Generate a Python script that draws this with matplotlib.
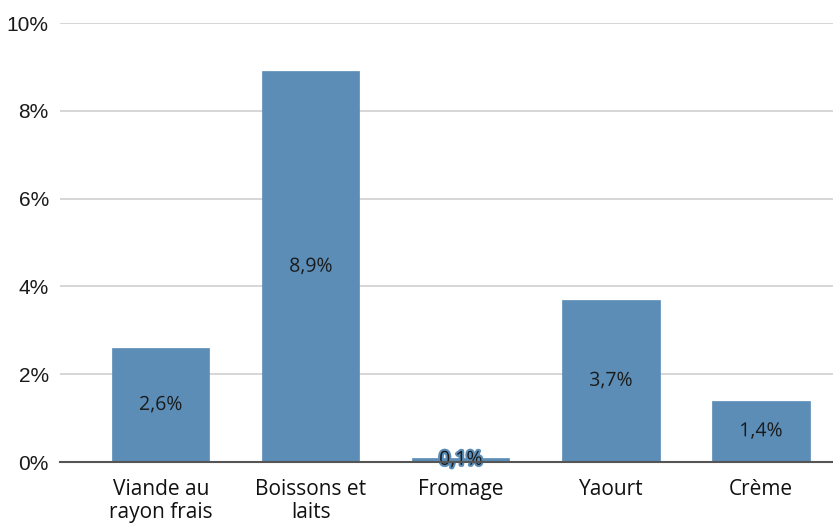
import matplotlib.pyplot as plt
import matplotlib.patheffects as pe
from matplotlib.ticker import FuncFormatter

categories = ["Viande au\nrayon frais", "Boissons et\nlaits", "Fromage", "Yaourt", "Crème"]
values = [2.6, 8.9, 0.1, 3.7, 1.4]
yticks = [0, 2, 4, 6, 8, 10]

bar_color = "#5b8db7"
label_font = ["Open Sans", "DejaVu Sans"]

fig = plt.figure(figsize=(8.33, 5.23), dpi=100)
ax = fig.add_axes([0.072, 0.1166, 0.928, 0.8394])

x = list(range(len(categories)))
ax.bar(x, values, width=0.647, color=bar_color, edgecolor=bar_color,
       linewidth=0.5, zorder=3)

for xi, v in zip(x, values):
    t = ax.text(xi, v / 2, f"{v:.1f}%".replace(".", ","), ha="center", va="center",
                fontsize=14, color="#1a1a1a", family=label_font, zorder=4)
    t.set_path_effects([pe.withStroke(linewidth=3, foreground=bar_color)])

ax.set_xlim(-0.673, 4.48)
ax.set_ylim(0, 10)
ax.set_yticks(yticks)
ax.yaxis.set_major_formatter(FuncFormatter(lambda v, p: f"{v:.0f}%"))
ax.grid(axis="y", color="#d0d0d0", linewidth=1.2, zorder=0)
ax.set_axisbelow(True)

for s in ["top", "right", "left"]:
    ax.spines[s].set_visible(False)
ax.spines["bottom"].set_color("#555555")
ax.spines["bottom"].set_linewidth(1.5)
ax.spines["bottom"].set_zorder(5)

ax.tick_params(axis="y", length=0, pad=8, labelsize=15, labelcolor="#1a1a1a",
               labelfontfamily="Liberation Sans")
ax.tick_params(axis="x", length=0, pad=12)
ax.set_xticks(x)
ax.set_xticklabels(categories, fontsize=15, color="#111111",
                   family=label_font, linespacing=1.15, multialignment="center")

fig.savefig("out.png", dpi=100)
